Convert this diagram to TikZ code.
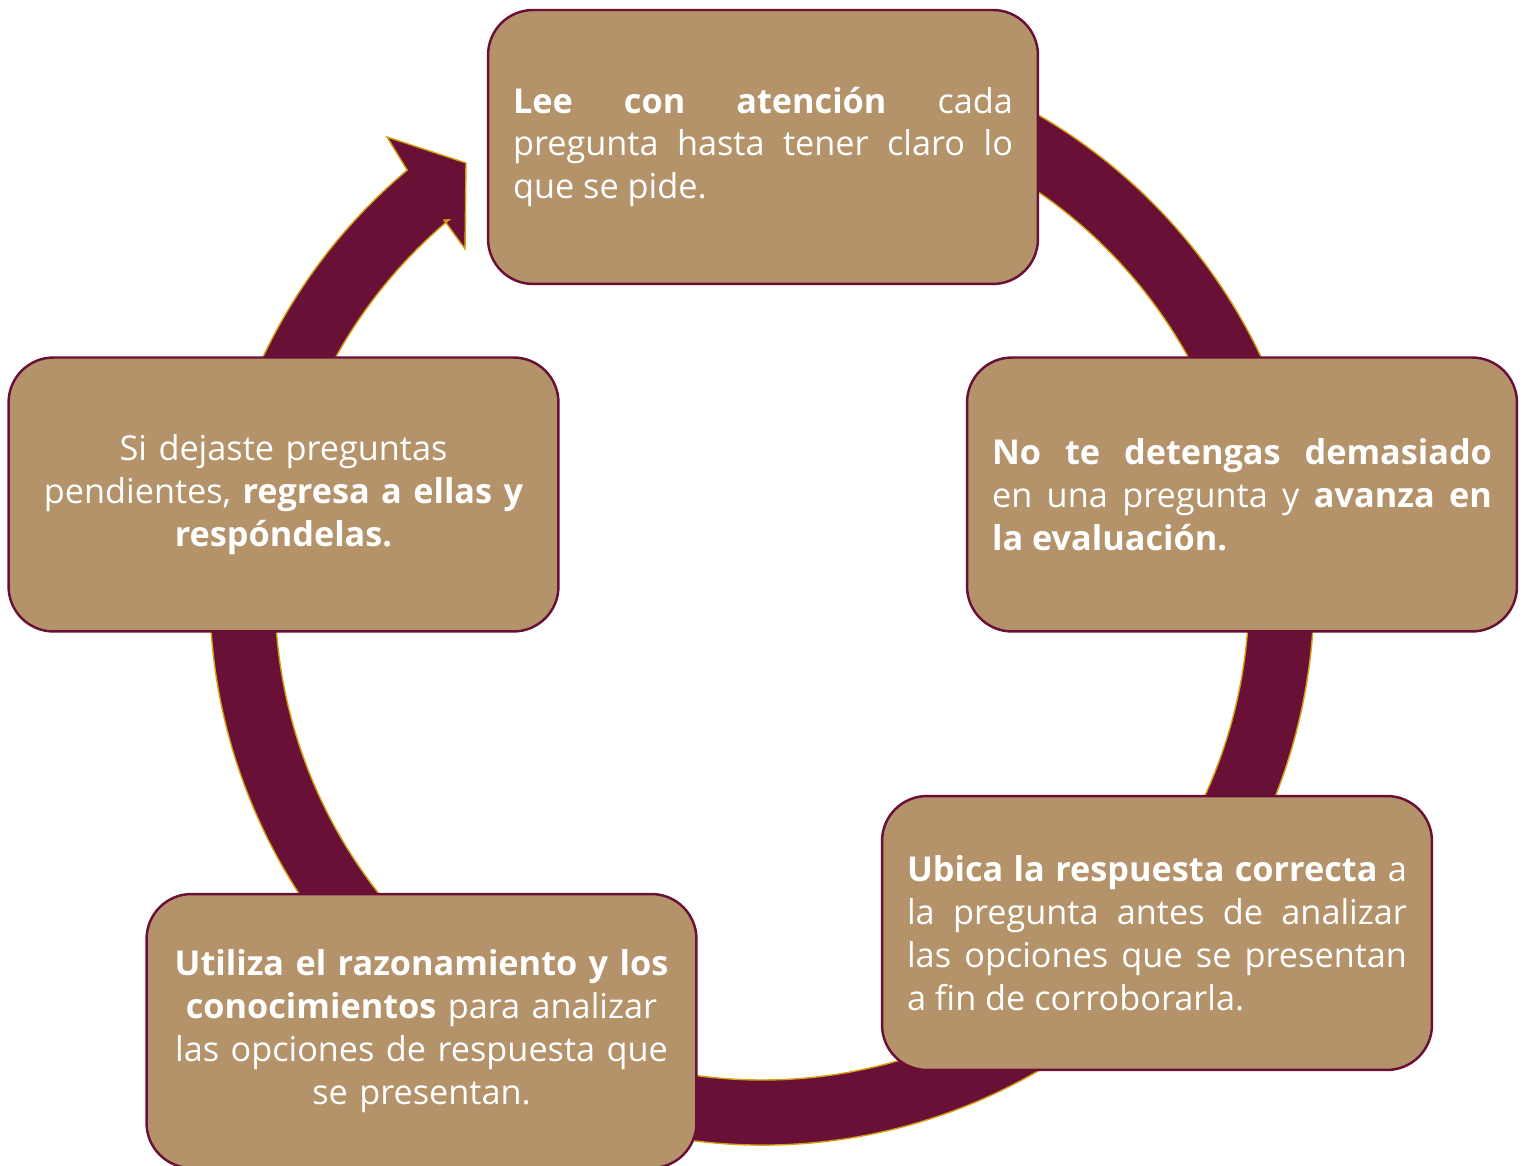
\documentclass[tikz,border=0pt]{standalone}
\usepackage{fontspec}
\setmainfont{Open Sans}
\usepackage{tikz}
\definecolor{guinda}{HTML}{691036}
\definecolor{arena}{HTML}{B4936A}
\definecolor{oro}{HTML}{D4A012}
\tikzstyle{caja} = [draw=guinda, line width=1.4pt, fill=arena, rounded corners=0.9cm, inner xsep=0.5cm, minimum width=11cm, minimum height=5.48cm, text width=10cm, text=white, font=\fontsize{19.5}{24.4}\selectfont]
\tikzstyle{just} = [align=justify]
\tikzstyle{centro} = [align=center]
\tikzstyle{anillo} = [fill=guinda, draw=oro, line width=0.8pt]

\begin{document}
\begin{tikzpicture}[x=0.02cm, y=0.02cm]
	\useasboundingbox (0,0) rectangle (1528,1166);
	% flecha circular
	\draw[anillo] ([shift={(80:552)}]762,573) arc[start angle=80, end angle=-230, radius=552]
		-- (387,1029) -- (466,1003) -- (465,917) -- (444,946)
		-- ([shift={(-230:487)}]762,573) arc[start angle=-230, end angle=80, radius=487] -- cycle;
	% pasos
	\node[caja, just] (lee) at (763,1019) {\textbf{Lee con atención} cada\linebreak pregunta hasta tener claro lo\linebreak que se pide.};
	\node[caja, just] (detente) at (1242,671.5) {\textbf{No te detengas demasiado}\linebreak en una pregunta y \textbf{avanza en}\linebreak \textbf{la evaluación.}};
	\node[caja, just] (ubica) at (1157,233) {\textbf{Ubica la respuesta correcta} a\linebreak la pregunta antes de analizar\linebreak las opciones que se presentan\linebreak a fin de corroborarla.};
	\node[caja, centro] (utiliza) at (421.5,135) {\textbf{Utiliza el razonamiento y los}\\ \textbf{conocimientos} para analizar\\ las opciones de respuesta que\\ se presentan.};
	\node[caja, centro] (regresa) at (283.5,671.5) {Si dejaste preguntas\\ pendientes, \textbf{regresa a ellas y}\\ \textbf{respóndelas.}};
\end{tikzpicture}
\end{document}
